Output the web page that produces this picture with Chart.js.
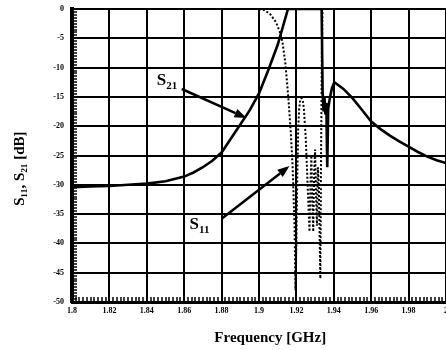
<!DOCTYPE html>
<html>
<head>
<meta charset="utf-8">
<script src="https://cdn.jsdelivr.net/npm/chart.js@4/dist/chart.umd.min.js"></script>
<style>
  html, body { margin: 0; padding: 0; background: #ffffff; }
  #wrap { width: 446px; height: 350px; }
</style>
</head>
<body>
<div id="wrap"><canvas id="c" width="446" height="350"></canvas></div>
<script>
// ---- data ----
const freqS21 = [1.80, 1.81, 1.82, 1.83, 1.84, 1.85, 1.86, 1.865, 1.87, 1.875, 1.88, 1.885, 1.89, 1.895, 1.90, 1.905, 1.91, 1.9155, 1.92, 1.925, 1.93, 1.9335, 1.934, 1.9345, 1.935, 1.9355, 1.936, 1.9365, 1.937, 1.938, 1.939, 1.9403, 1.945, 1.95, 1.955, 1.96, 1.965, 1.97, 1.975, 1.98, 1.985, 1.99, 1.995, 2.0];
const s21Db    = [-30.4, -30.3, -30.2, -30.0, -29.8, -29.4, -28.6, -27.9, -27.0, -25.9, -24.5, -22.1, -19.7, -17.3, -14.4, -10.4, -6.1, 0, 0, 0, 0, 0, -14, -17.5, -15, -18, -16, -27, -17, -15, -13.5, -12.5, -13.6, -15.2, -17.2, -19.2, -20.5, -21.6, -22.6, -23.5, -24.4, -25.2, -25.8, -26.3];

const freqS11 = [1.900, 1.903, 1.906, 1.909, 1.911, 1.9125, 1.914, 1.915, 1.916, 1.917, 1.918, 1.919, 1.9195, 1.9200, 1.9205, 1.921, 1.9215, 1.922, 1.9227, 1.9235, 1.924, 1.925, 1.926, 1.927, 1.9275, 1.928, 1.9285, 1.929, 1.9295, 1.930, 1.9305, 1.931, 1.9315, 1.932, 1.9325, 1.9328, 1.9332, 1.9336, 1.934];
const s11Db    = [0, -0.2, -0.9, -2.2, -3.8, -5.5, -9, -12.5, -16.5, -21, -27, -37, -48, -40, -28, -20, -17, -15.6, -15.2, -15.8, -17, -22, -30, -38, -30, -25, -33, -38, -28, -24, -32, -37, -27, -30, -40, -46, -25, -8, 0];

const xTickLabels = ['1.8', '1.82', '1.84', '1.86', '1.88', '1.9', '1.92', '1.94', '1.96', '1.98', '2'];
const yTickLabels = ['0', '-5', '-10', '-15', '-20', '-25', '-30', '-35', '-40', '-45', '-50'];

const seriesNames = ['S21', 'S11'];

// ---- annotation placement (in data units) ----
const notes = [
  { main: 'S', sub: '21', at: [1.8453, -12.97], from: [1.8587, -13.65], to: [1.8933, -18.6] },
  { main: 'S', sub: '11', at: [1.8629, -37.5],  from: [1.8800, -35.8],  to: [1.9163, -26.8] }
];

const SERIF = '"Liberation Serif", "Times New Roman", serif';

function isMajorX(v) { return Math.abs(v * 50 - Math.round(v * 50)) < 1e-6; }
function isMajorY(v) { return Math.abs(v / 5 - Math.round(v / 5)) < 1e-6; }

const annotationPlugin = {
  id: 'notes',
  afterDatasetsDraw(chart) {
    const ctx = chart.ctx;
    const xs = chart.scales.x, ys = chart.scales.y;
    ctx.save();
    ctx.fillStyle = '#000';
    ctx.strokeStyle = '#000';
    notes.forEach(n => {
      const lx = xs.getPixelForValue(n.at[0]);
      const ly = ys.getPixelForValue(n.at[1]);
      ctx.textAlign = 'left';
      ctx.textBaseline = 'alphabetic';
      ctx.font = 'bold 17px ' + SERIF;
      ctx.fillText(n.main, lx, ly);
      const w = ctx.measureText(n.main).width;
      ctx.font = 'bold 11px ' + SERIF;
      ctx.fillText(n.sub, lx + w, ly + 4);
      // arrow
      const x1 = xs.getPixelForValue(n.from[0]), y1 = ys.getPixelForValue(n.from[1]);
      const x2 = xs.getPixelForValue(n.to[0]),   y2 = ys.getPixelForValue(n.to[1]);
      const ang = Math.atan2(y2 - y1, x2 - x1);
      const hl = 12, hw = 4.5;
      const bx = x2 - hl * Math.cos(ang), by = y2 - hl * Math.sin(ang);
      ctx.lineWidth = 2.5;
      ctx.beginPath();
      ctx.moveTo(x1, y1);
      ctx.lineTo(bx, by);
      ctx.stroke();
      ctx.beginPath();
      ctx.moveTo(x2, y2);
      ctx.lineTo(bx + hw * Math.sin(ang), by - hw * Math.cos(ang));
      ctx.lineTo(bx - hw * Math.sin(ang), by + hw * Math.cos(ang));
      ctx.closePath();
      ctx.fill();
    });
    ctx.restore();
  }
};

new Chart(document.getElementById('c'), {
  type: 'line',
  data: {
    datasets: [
      {
        label: seriesNames[0],
        data: freqS21.map((f, i) => ({ x: f, y: s21Db[i] })),
        borderColor: '#000',
        borderWidth: 2.6,
        pointRadius: 0,
        tension: 0,
        fill: false
      },
      {
        label: seriesNames[1],
        data: freqS11.map((f, i) => ({ x: f, y: s11Db[i] })),
        borderColor: '#000',
        borderWidth: 2,
        borderDash: [2, 2],
        pointRadius: 0,
        tension: 0,
        fill: false
      }
    ]
  },
  options: {
    responsive: false,
    animation: false,
    devicePixelRatio: 1,
    layout: { padding: { top: 9, right: 0, left: 0, bottom: 0 } },
    plugins: { legend: { display: false }, tooltip: { enabled: false } },
    scales: {
      x: {
        type: 'linear',
        min: 1.8,
        max: 2.0,
        afterFit(s) { s.height = 48; s.paddingLeft = 0; s.paddingRight = 0; },
        ticks: {
          stepSize: 0.002,
          autoSkip: false,
          maxRotation: 0,
          padding: 9,
          color: '#000',
          font: { family: SERIF, size: 8, weight: 'bold' },
          callback(v) { return isMajorX(v) ? xTickLabels[Math.round((v - 1.8) / 0.02)] : ''; }
        },
        grid: {
          color: c => (c.tick && isMajorX(c.tick.value)) ? '#000' : 'rgba(0,0,0,0)',
          lineWidth: 2,
          tickColor: '#000',
          tickWidth: 1.5,
          tickLength: -5,
          drawTicks: true
        },
        border: { color: '#000', width: 3 },
        title: {
          display: true,
          text: '      Frequency [GHz]',
          color: '#000',
          font: { family: SERIF, size: 15, weight: 'bold' },
          padding: { top: 0, bottom: 3 }
        }
      },
      y: {
        type: 'linear',
        min: -50,
        max: 0,
        afterFit(s) { s.width = 72; s.paddingTop = 0; s.paddingBottom = 0; },
        ticks: {
          stepSize: 0.5,
          autoSkip: false,
          padding: 13,
          color: '#000',
          font: { family: SERIF, size: 8, weight: 'bold' },
          callback(v) { return isMajorY(v) ? yTickLabels[Math.round(-v / 5)] : ''; }
        },
        grid: {
          color: c => (c.tick && isMajorY(c.tick.value)) ? '#000' : 'rgba(0,0,0,0)',
          lineWidth: 2,
          tickColor: '#000',
          tickWidth: 1.5,
          tickLength: -5,
          drawTicks: true
        },
        border: { color: '#000', width: 4 },
        title: {
          display: true,
          text: 'S\u2081\u2081, S\u2082\u2081 [dB]       ',
          color: '#000',
          font: { family: SERIF, size: 15, weight: 'bold' },
          padding: { top: 11, bottom: 0 }
        }
      }
    }
  },
  plugins: [annotationPlugin]
});
</script>
</body>
</html>
